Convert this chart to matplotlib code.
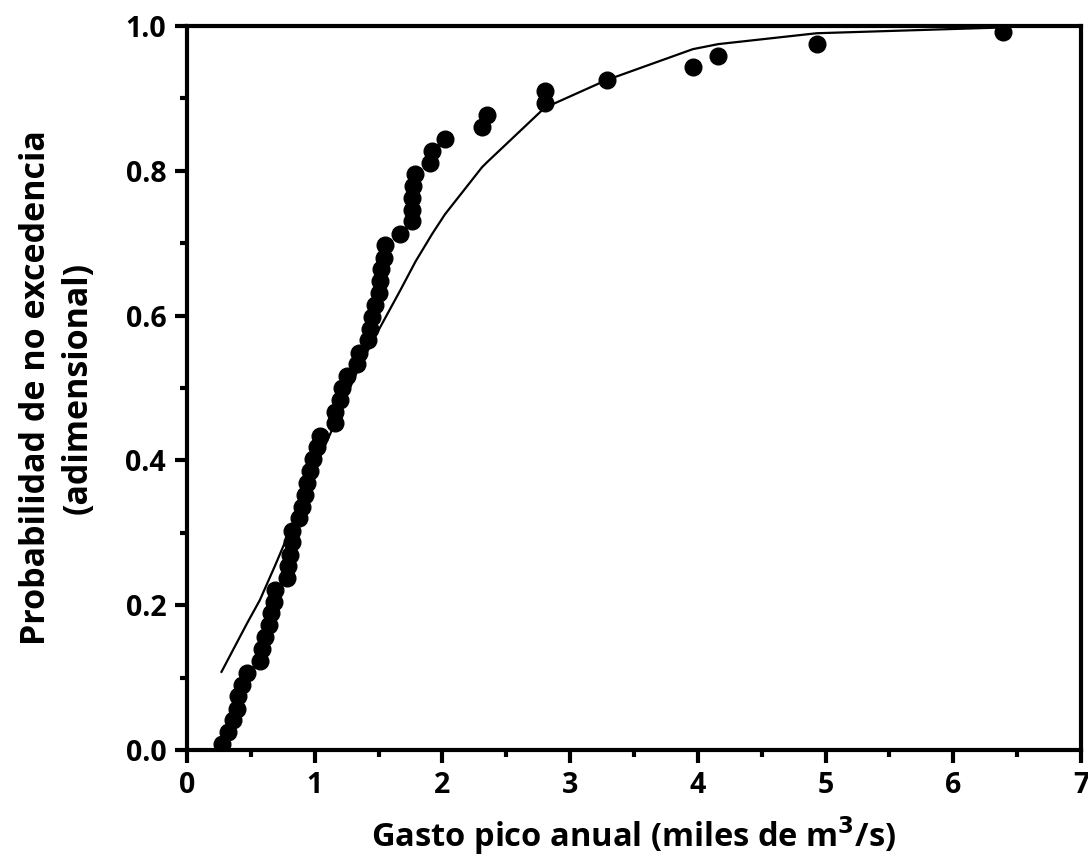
import matplotlib
matplotlib.use('Agg')
import matplotlib.pyplot as plt
from matplotlib.ticker import MultipleLocator, FormatStrFormatter

gasto = [0.27, 0.32, 0.36, 0.39, 0.40, 0.43, 0.47,
         0.57, 0.585, 0.61, 0.64, 0.66, 0.68, 0.69,
         0.78, 0.79, 0.81, 0.82, 0.82, 0.88, 0.90,
         0.92, 0.94, 0.96, 0.99, 1.015, 1.04,
         1.16, 1.16, 1.20, 1.21, 1.25, 1.33, 1.35,
         1.42, 1.43, 1.445, 1.47, 1.50, 1.51, 1.52, 1.54, 1.55,
         1.67, 1.76, 1.76, 1.76, 1.77, 1.785, 1.90, 1.915,
         2.02, 2.31, 2.35, 2.80, 2.80, 3.285, 3.96, 4.16, 4.93, 6.39]
# empirical non-exceedance probability of each point
prob = [0.008, 0.025, 0.041, 0.057, 0.074, 0.090, 0.107,
        0.123, 0.139, 0.156, 0.172, 0.189, 0.205, 0.221,
        0.238, 0.254, 0.270, 0.287, 0.303, 0.320, 0.336,
        0.352, 0.369, 0.385, 0.402, 0.418, 0.434,
        0.451, 0.467, 0.484, 0.500, 0.516, 0.533, 0.549,
        0.566, 0.582, 0.598, 0.615, 0.631, 0.648, 0.664, 0.680, 0.697,
        0.713, 0.730, 0.746, 0.762, 0.779, 0.795, 0.811, 0.828,
        0.844, 0.861, 0.877, 0.893, 0.910, 0.926, 0.943, 0.959, 0.975, 0.992]

# fitted distribution (polyline)
ajuste_x = [0.27, 0.47, 0.57, 0.69, 0.82, 0.99, 1.16, 1.25, 1.35, 1.50,
            1.67, 1.79, 1.92, 2.02, 2.31, 2.35, 2.80, 3.28, 3.96, 4.16, 4.93, 6.39]
ajuste_y = [0.108, 0.175, 0.207, 0.255, 0.309, 0.385, 0.452, 0.490, 0.530, 0.580,
            0.635, 0.675, 0.713, 0.740, 0.805, 0.812, 0.887, 0.925, 0.968, 0.975, 0.990, 0.998]

plt.rcParams['font.family'] = ['Open Sans', 'DejaVu Sans']
plt.rcParams['font.weight'] = 'bold'

fig = plt.figure(figsize=(10.88, 8.61), dpi=100)
ax = fig.add_axes([0.1719, 0.1289, 0.8217, 0.8409])

ax.plot(ajuste_x, ajuste_y, color='black', lw=1.6, zorder=2)
ax.plot(gasto, prob, 'o', color='black', ms=12, zorder=3)

ax.set_xlim(0, 7)
ax.set_ylim(0, 1.0)
ax.xaxis.set_major_locator(MultipleLocator(1))
ax.xaxis.set_minor_locator(MultipleLocator(0.5))
ax.yaxis.set_major_locator(MultipleLocator(0.2))
ax.yaxis.set_minor_locator(MultipleLocator(0.1))
ax.yaxis.set_major_formatter(FormatStrFormatter('%.1f'))

for s in ax.spines.values():
    s.set_linewidth(3)
ax.tick_params(which='major', direction='out', length=9, width=3,
               labelsize=20.5, pad=6, top=False, right=False)
ax.tick_params(which='minor', direction='out', length=5, width=3,
               top=False, right=False)
for lab in ax.get_xticklabels() + ax.get_yticklabels():
    lab.set_fontweight('bold')

ax.set_xlabel('Gasto pico anual (miles de m$^{\\mathbf{3}}$/s)', fontsize=23.5,
              fontweight='bold', labelpad=10)
ax.set_ylabel('Probabilidad de no excedencia\n(adimensional)', fontsize=24.5,
              fontweight='bold', labelpad=22, linespacing=1.3)

fig.savefig('out.png', dpi=100)
